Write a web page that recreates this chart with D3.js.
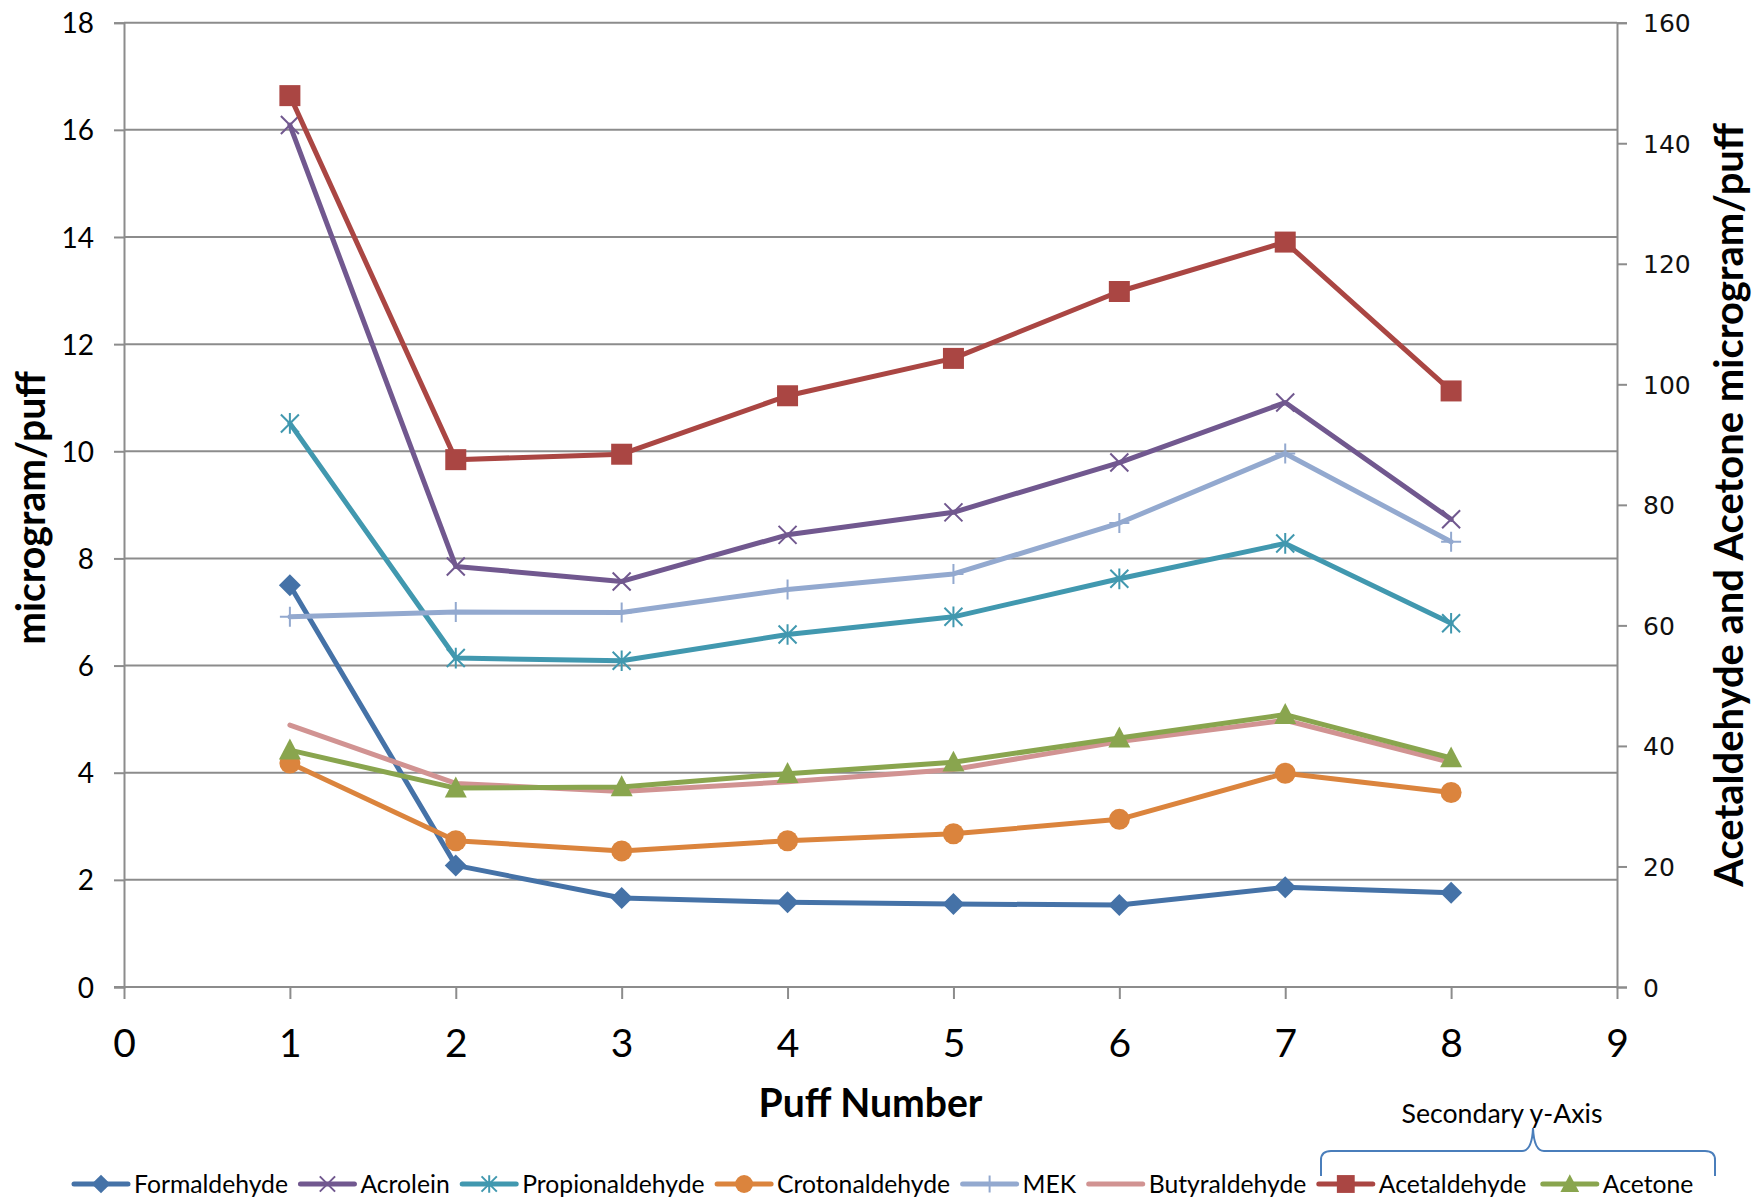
<!DOCTYPE html>
<html><head><meta charset="utf-8">
<script src="https://cdn.jsdelivr.net/npm/d3@7"></script>
<style>body{margin:0;background:#fff}svg{display:block}</style>
</head><body>
<svg id="c" width="1755" height="1198"></svg>
<script>
const puffs = [1, 2, 3, 4, 5, 6, 7, 8];
const seriesNames = ["Formaldehyde","Acrolein","Propionaldehyde","Crotonaldehyde","MEK","Butyraldehyde","Acetaldehyde","Acetone"];
const formaldehyde   = [7.50, 2.27, 1.66, 1.58, 1.55, 1.53, 1.86, 1.76];
const acrolein       = [16.09, 7.85, 7.57, 8.44, 8.86, 9.79, 10.91, 8.73];
const propionaldehyde= [10.52, 6.14, 6.09, 6.58, 6.91, 7.62, 8.28, 6.79];
const crotonaldehyde = [4.18, 2.73, 2.54, 2.73, 2.86, 3.13, 3.99, 3.63];
const mek            = [6.91, 7.00, 6.99, 7.42, 7.71, 8.66, 9.96, 8.31];
const butyraldehyde  = [4.89, 3.80, 3.65, 3.83, 4.06, 4.58, 4.98, 4.19];
const acetaldehyde   = [147.9, 87.5, 88.4, 98.1, 104.3, 115.4, 123.6, 98.9];
const acetone        = [39.3, 33.0, 33.2, 35.4, 37.3, 41.3, 45.2, 38.0];
const xTicks = [0,1,2,3,4,5,6,7,8,9];
const yLeftTicks = [0,2,4,6,8,10,12,14,16,18];
const yRightTicks = [0,20,40,60,80,100,120,140,160];

const series = [
  {name:"Formaldehyde", values:formaldehyde, axis:"L", color:"#4572A7", marker:"diamond"},
  {name:"Acrolein", values:acrolein, axis:"L", color:"#71588F", marker:"x"},
  {name:"Propionaldehyde", values:propionaldehyde, axis:"L", color:"#4198AF", marker:"star"},
  {name:"Crotonaldehyde", values:crotonaldehyde, axis:"L", color:"#DB843D", marker:"circle"},
  {name:"MEK", values:mek, axis:"L", color:"#93A9CF", marker:"plus"},
  {name:"Butyraldehyde", values:butyraldehyde, axis:"L", color:"#D19392", marker:"none"},
  {name:"Acetaldehyde", values:acetaldehyde, axis:"R", color:"#AA4643", marker:"square"},
  {name:"Acetone", values:acetone, axis:"R", color:"#89A54E", marker:"triangle"}
];

const L = 124, R = 1617, T = 22.7, B = 987;
const FONT = "Lato, 'Open Sans', 'Liberation Sans', sans-serif";
const GRID = "#8c8c8c";
const svg = d3.select("#c");

const x = d3.scaleLinear().domain([0,9]).range([L,R]);
const yL = d3.scaleLinear().domain([0,18]).range([B,T]);
const yR = d3.scaleLinear().domain([0,160]).range([B,T]);

function fit(sel, target){
  const w = sel.node().getComputedTextLength();
  const fs = parseFloat(sel.attr("font-size"));
  const nfs = fs*target/w;
  sel.attr("font-size", nfs);
  return nfs;
}

// gridlines
svg.append("g").selectAll("line").data(yLeftTicks.filter(d=>d>0)).join("line")
  .attr("x1",L).attr("x2",R).attr("y1",d=>yL(d)).attr("y2",d=>yL(d))
  .attr("stroke",GRID).attr("stroke-width",2);

// left axis
const gL = svg.append("g").attr("transform",`translate(${L},0)`)
  .call(d3.axisLeft(yL).tickValues(yLeftTicks).tickSize(10).tickPadding(20).tickFormat(d3.format("d")));
gL.attr("font-size",null);
gL.select(".domain").attr("stroke",GRID).attr("stroke-width",2);
gL.selectAll(".tick line").attr("stroke",GRID).attr("stroke-width",2);
gL.selectAll(".tick text").attr("font-family",FONT).attr("fill","#000").attr("font-size",28).attr("dy","0.36em");

// right axis
const gR = svg.append("g").attr("transform",`translate(${R},0)`)
  .call(d3.axisRight(yR).tickValues(yRightTicks).tickSize(10).tickPadding(16).tickFormat(d3.format("d")));
gR.attr("font-size",null);
gR.select(".domain").attr("stroke",GRID).attr("stroke-width",2);
gR.selectAll(".tick line").attr("stroke",GRID).attr("stroke-width",2);
gR.selectAll(".tick text").attr("font-family","'DejaVu Sans', Verdana, sans-serif").attr("fill","#111").attr("font-size",25).attr("dy","0.36em");

// bottom axis
const gB = svg.append("g").attr("transform",`translate(0,${B})`)
  .call(d3.axisBottom(x).tickValues(xTicks).tickSize(12).tickPadding(30).tickFormat(d3.format("d")));
gB.attr("font-size",null);
gB.select(".domain").attr("stroke",GRID).attr("stroke-width",2).attr("d",`M${L-10},0H${R}`);
gB.selectAll(".tick line").attr("stroke",GRID).attr("stroke-width",2);
gB.selectAll(".tick text").attr("font-family",FONT).attr("fill","#000").attr("font-size",39).attr("dy","0.72em");

// axis titles
const tB = svg.append("text").text("Puff Number").attr("x",(L+R)/2).attr("y",1117)
  .attr("text-anchor","middle").attr("font-family",FONT).attr("font-weight","bold").attr("font-size",40).attr("fill","#000");
fit(tB, 224);
const tL = svg.append("text").text("microgram/puff")
  .attr("transform",`translate(31,${(T+B)/2 + 3}) rotate(-90)`).attr("dy","0.35em")
  .attr("text-anchor","middle").attr("font-family",FONT).attr("font-weight","bold").attr("font-size",36).attr("fill","#000");
fit(tL, 274);
const tR = svg.append("text").text("Acetaldehyde and Acetone microgram/puff")
  .attr("transform",`translate(1729,${(T+B)/2}) rotate(-90)`).attr("dy","0.35em")
  .attr("text-anchor","middle").attr("font-family",FONT).attr("font-weight","bold").attr("font-size",36).attr("fill","#000");
fit(tR, 764);

// markers
function drawMarker(g, type, cx, cy, color, s){
  s = s||1;
  if(type==="diamond"){
    const r=11*s;
    g.append("path").attr("d",`M${cx},${cy-r}L${cx+r},${cy}L${cx},${cy+r}L${cx-r},${cy}Z`).attr("fill",color);
  } else if(type==="square"){
    const r=10.5*s;
    g.append("rect").attr("x",cx-r).attr("y",cy-r).attr("width",2*r).attr("height",2*r).attr("fill",color);
  } else if(type==="circle"){
    g.append("circle").attr("cx",cx).attr("cy",cy).attr("r",10.5*s).attr("fill",color);
  } else if(type==="triangle"){
    const r=11*s;
    g.append("path").attr("d",`M${cx},${cy-r*1.05}L${cx+r},${cy+r*0.85}L${cx-r},${cy+r*0.85}Z`).attr("fill",color);
  } else if(type==="x"){
    const r=9*s;
    g.append("path").attr("d",`M${cx-r},${cy-r}L${cx+r},${cy+r}M${cx-r},${cy+r}L${cx+r},${cy-r}`).attr("stroke",color).attr("stroke-width",2).attr("fill","none");
  } else if(type==="star"){
    const r=9*s;
    g.append("path").attr("d",`M${cx-r},${cy-r}L${cx+r},${cy+r}M${cx-r},${cy+r}L${cx+r},${cy-r}M${cx},${cy-r*1.15}L${cx},${cy+r*1.15}`).attr("stroke",color).attr("stroke-width",2).attr("fill","none");
  } else if(type==="plus"){
    const r=10*s;
    g.append("path").attr("d",`M${cx-r},${cy}L${cx+r},${cy}M${cx},${cy-r}L${cx},${cy+r}`).attr("stroke",color).attr("stroke-width",2).attr("fill","none");
  }
}

// series
const plot = svg.append("g");
series.forEach(s=>{
  const y = s.axis==="L"?yL:yR;
  const line = d3.line().x((d,i)=>x(puffs[i])).y(d=>y(d));
  const g = plot.append("g");
  g.append("path").datum(s.values).attr("d",line).attr("fill","none")
    .attr("stroke",s.color).attr("stroke-width",5).attr("stroke-linejoin","round").attr("stroke-linecap","round");
  s.values.forEach((v,i)=>drawMarker(g, s.marker, x(puffs[i]), y(v), s.color, 1));
});

// legend
const lg = svg.append("g");
const LY = 1184;
let lx = 74;
let legendFS = 24;
{
  const tmp = lg.append("text").text("Formaldehyde").attr("font-family",FONT).attr("font-size",24);
  legendFS = fit(tmp, 154);
  tmp.remove();
}
series.forEach((s,i)=>{
  if(s.name==="Acetone") lx += 4;
  lg.append("line").attr("x1",lx).attr("x2",lx+54).attr("y1",LY).attr("y2",LY)
    .attr("stroke",s.color).attr("stroke-width",5).attr("stroke-linecap","round");
  drawMarker(lg, s.marker, lx+27, LY, s.color, 0.85);
  const t = lg.append("text").text(s.name).attr("x",lx+60).attr("y",LY).attr("dy","0.35em")
    .attr("font-family",FONT).attr("font-size",legendFS).attr("fill","#000");
  lx = lx + 60 + t.node().getComputedTextLength() + 12.5;
});

// secondary axis bracket
svg.append("path")
  .attr("d","M1321,1176 L1321,1160 Q1321,1151 1331,1151 L1522,1151 Q1532,1151 1533,1128 Q1534,1151 1544,1151 L1705,1151 Q1715,1151 1715,1160 L1715,1176")
  .attr("fill","none").attr("stroke","#4a7ebb").attr("stroke-width",2);
const st = svg.append("text").text("Secondary y-Axis").attr("x",1502).attr("y",1114).attr("dy","0.35em")
  .attr("text-anchor","middle").attr("font-family",FONT).attr("font-size",24).attr("fill","#000");
fit(st, 201);
</script>
</body></html>
